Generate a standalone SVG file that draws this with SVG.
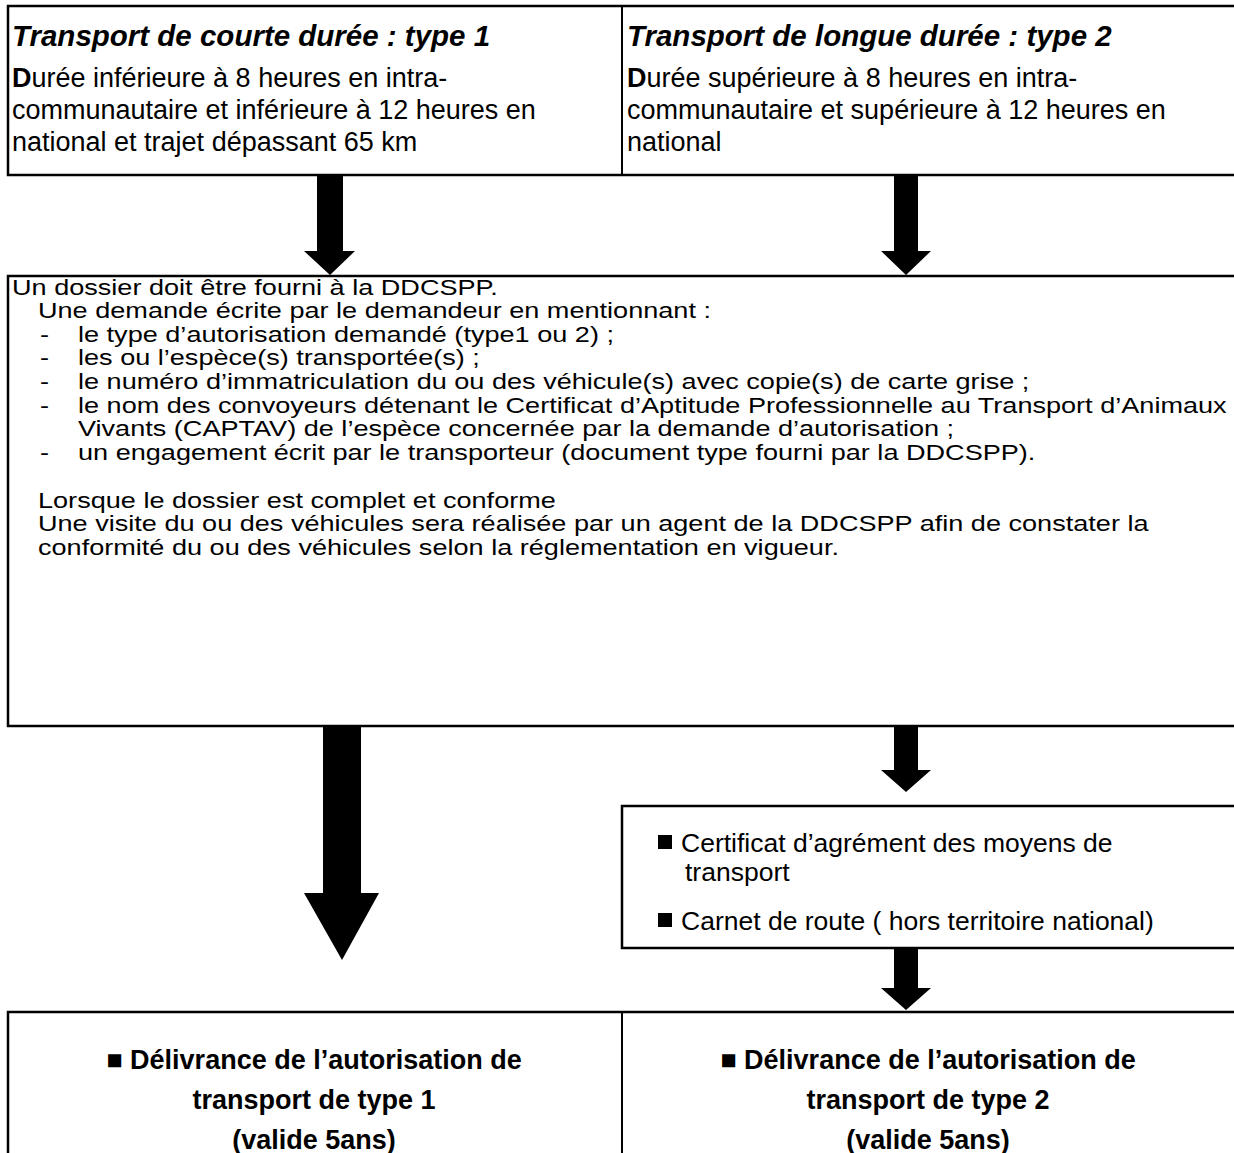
<svg xmlns="http://www.w3.org/2000/svg" width="1234" height="1153" viewBox="0 0 1234 1153">
<style>
.box{fill:#fff;stroke:#000;stroke-width:2.5}
.ln{stroke:#000;stroke-width:2}
.t{font-family:"Liberation Sans",Arial,sans-serif;fill:#000}
.ti{font-size:29.5px;font-weight:bold;font-style:italic}
.tb{font-size:27px}
.tm{font-size:22.5px}
.tc{font-size:26.5px}
.bt{font-size:27px;font-weight:bold}
.arr{fill:#000}
</style>
<rect width="1234" height="1153" fill="#fff"/>
<g id="type1">
<rect class="box" x="8" y="6" width="1240" height="169"/>
<text class="t ti" x="12" y="46">Transport de courte durée : type 1</text>
<text class="t tb" x="12" y="87"><tspan font-weight="bold">D</tspan>urée inférieure à 8 heures en intra-</text>
<text class="t tb" x="12" y="119">communautaire et inférieure à 12 heures en</text>
<text class="t tb" x="12" y="151">national et trajet dépassant 65 km</text>
</g>
<g id="type2">
<line class="ln" x1="622" y1="6" x2="622" y2="175"/>
<text class="t ti" x="627" y="46">Transport de longue durée : type 2</text>
<text class="t tb" x="627" y="87"><tspan font-weight="bold">D</tspan>urée supérieure à 8 heures en intra-</text>
<text class="t tb" x="627" y="119">communautaire et supérieure à 12 heures en</text>
<text class="t tb" x="627" y="151">national</text>
</g>
<g id="dossier">
<rect class="box" x="8" y="276" width="1240" height="450"/>
<g class="t tm" transform="scale(1.2044,1)">
<text x="9.96" y="295">Un dossier doit être fourni à la DDCSPP.</text>
<text x="31.55" y="318">Une demande écrite par le demandeur en mentionnant :</text>
<text x="33.21" y="342">-</text><text x="64.76" y="342">le type d’autorisation demandé (type1 ou 2) ;</text>
<text x="33.21" y="365">-</text><text x="64.76" y="365">les ou l’espèce(s) transportée(s) ;</text>
<text x="33.21" y="389">-</text><text x="64.76" y="389">le numéro d’immatriculation du ou des véhicule(s) avec copie(s) de carte grise ;</text>
<text x="33.21" y="413">-</text><text x="64.76" y="413">le nom des convoyeurs détenant le Certificat d’Aptitude Professionnelle au Transport d’Animaux</text>
<text x="64.76" y="436">Vivants (CAPTAV) de l’espèce concernée par la demande d’autorisation ;</text>
<text x="33.21" y="460">-</text><text x="64.76" y="460">un engagement écrit par le transporteur (document type fourni par la DDCSPP).</text>
<text x="31.55" y="508">Lorsque le dossier est complet et conforme</text>
<text x="31.55" y="531">Une visite du ou des véhicules sera réalisée par un agent de la DDCSPP afin de constater la</text>
<text x="31.55" y="555">conformité du ou des véhicules selon la réglementation en vigueur.</text>
</g>
</g>
<g id="certificat">
<rect class="box" x="622" y="806" width="620" height="142"/>
<rect x="658" y="835" width="14" height="14" fill="#000"/>
<text class="t tc" x="681" y="852">Certificat d’agrément des moyens de</text>
<text class="t tc" x="685" y="881">transport</text>
<rect x="658" y="913" width="14" height="14" fill="#000"/>
<text class="t tc" x="681" y="930">Carnet de route ( hors territoire national)</text>
</g>
<g id="autorisation1">
<rect class="box" x="8" y="1012" width="1240" height="160"/>
<text class="t bt" x="314" y="1069" text-anchor="middle">■ Délivrance de l’autorisation de</text>
<text class="t bt" x="314" y="1109" text-anchor="middle">transport de type 1</text>
<text class="t bt" x="314" y="1149" text-anchor="middle">(valide 5ans)</text>
</g>
<g id="autorisation2">
<line class="ln" x1="622" y1="1012" x2="622" y2="1153"/>
<text class="t bt" x="928" y="1069" text-anchor="middle">■ Délivrance de l’autorisation de</text>
<text class="t bt" x="928" y="1109" text-anchor="middle">transport de type 2</text>
<text class="t bt" x="928" y="1149" text-anchor="middle">(valide 5ans)</text>
</g>
<g id="connectors">
<polygon class="arr" points="317,176 343,176 343,251 355,251 330,275 304,251 317,251"/>
<polygon class="arr" points="894,176 918,176 918,251 931,251 906,275 881,251 894,251"/>
<polygon class="arr" points="323,727 361,727 361,893 379,893 342,960 304,893 323,893"/>
<polygon class="arr" points="894,727 918,727 918,770 931,770 906,792 881,770 894,770"/>
<polygon class="arr" points="894,949 918,949 918,988 931,988 906,1010 881,988 894,988"/>
</g>
</svg>
